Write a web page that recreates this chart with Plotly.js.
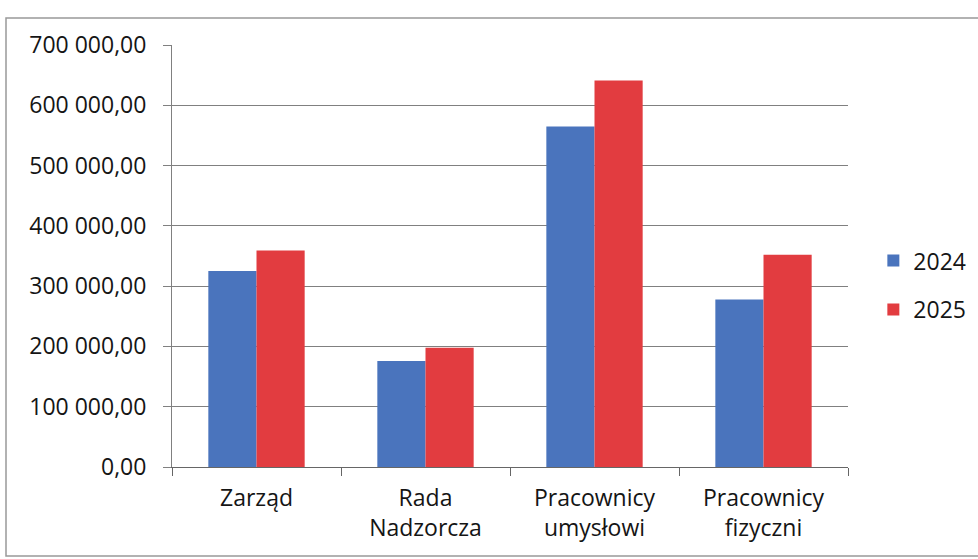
<!DOCTYPE html>
<html><head><meta charset="utf-8">
<script src="https://cdn.plot.ly/plotly-3.0.1.min.js"></script>
<style>html,body{margin:0;padding:0;background:#fff;}#c{width:978px;height:559px;}</style>
</head><body><div id="c"></div>
<script>
const categories = ["Zarząd", "Rada<br>Nadzorcza", "Pracownicy<br>umysłowi", "Pracownicy<br>fizyczni"];
const series2024 = [325000, 176000, 565000, 278000];
const series2025 = [359000, 198000, 641000, 352000];
const seriesNames = ["2024", "2025"];
const yTicks = [0, 100000, 200000, 300000, 400000, 500000, 600000, 700000];

const font = "Open Sans, Noto Sans, sans-serif";
const data = [
  {type:"bar", name:seriesNames[0], legendgroup:"a", x:categories, y:series2024, marker:{color:"#4a74bd"}},
  {type:"bar", name:seriesNames[1], legendgroup:"b", x:categories, y:series2025, marker:{color:"#e23c40"}}
];
const ML = 172, MR = 130, MT = 45, MB = 92;
const PW = 978 - ML - MR, PH = 559 - MT - MB;
const layout = {
  width:978, height:559,
  margin:{l:ML, r:MR, t:MT, b:MB, autoexpand:false},
  paper_bgcolor:"#fff", plot_bgcolor:"#fff",
  separators:", ",
  barmode:"group", bargap:0.43, bargroupgap:0,
  font:{family:font, color:"#151515", size:23},
  showlegend:true,
  legend:{xref:"container", yref:"container", x:0.893, y:0.49, yanchor:"middle", xanchor:"left",
          font:{size:23, color:"#151515"}, itemwidth:30, tracegroupgap:16, bgcolor:"rgba(0,0,0,0)"},
  xaxis:{type:"category", showgrid:false, showline:true, linecolor:"#666", linewidth:1,
         ticks:"outside", tickson:"boundaries", ticklen:8, tickcolor:"#666",
         ticklabelstandoff:10,
         tickfont:{size:23, color:"#151515"}, automargin:false},
  yaxis:{range:[0,700000], tickvals:yTicks, tickformat:",.2f", showgrid:true, gridcolor:"#808080", gridwidth:1,
         showline:true, linecolor:"#808080", ticks:"outside", ticklen:8, tickcolor:"#808080",
         ticklabelstandoff:12,
         tickfont:{size:23, color:"#151515"}, zeroline:false, automargin:false},
  shapes:[{type:"rect", xref:"paper", yref:"paper",
           x0:(6-ML)/PW, x1:(982-ML)/PW, y0:(559-MB-556)/PH, y1:(559-MB-18)/PH,
           line:{color:"#999", width:1.5}, fillcolor:"rgba(0,0,0,0)", layer:"below"}]
};
Plotly.newPlot("c", data, layout, {staticPlot:true, displayModeBar:false});
</script></body></html>
